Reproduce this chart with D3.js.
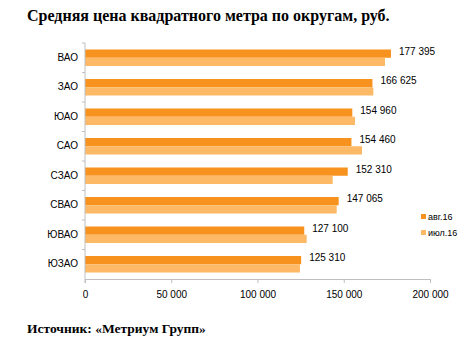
<!DOCTYPE html>
<html>
<head>
<meta charset="utf-8">
<script src="https://cdn.jsdelivr.net/npm/d3@7"></script>
<style>
  html, body { margin: 0; padding: 0; background: #fff; }
  svg { display: block; }
</style>
</head>
<body>
<svg id="chart" width="469" height="346"></svg>
<script>
// Average price per square metre by district, roubles
const districts = ["ВАО", "ЗАО", "ЮАО", "САО", "СЗАО", "СВАО", "ЮВАО", "ЮЗАО"];
const aug16 = [177395, 166625, 154960, 154460, 152310, 147065, 127100, 125310];
const jul16 = [173900, 167150, 156500, 160600, 143600, 145900, 128500, 124600];
const seriesNames = ["авг.16", "июл.16"];
const xTicks = [0, 50000, 100000, 150000, 200000];

const colors = { "авг.16": "#F7921E", "июл.16": "#FDB965" };
const fmt = v => d3.format(",")(v).replace(/,/g, " ");

const svg = d3.select("#chart");
const margin = { left: 85, right: 39, top: 43, bottom: 67 };
const W = 469, H = 346;

const x = d3.scaleLinear().domain([0, 200000]).range([margin.left, W - margin.right]);
const y = d3.scaleBand().domain(districts).range([margin.top, H - margin.bottom]).paddingInner(0.44).paddingOuter(0.22);
const sub = d3.scaleBand().domain(seriesNames).range([0, y.bandwidth()]);

const rows = districts.map((d, i) => ({ name: d, values: [
  { key: "авг.16", value: aug16[i] },
  { key: "июл.16", value: jul16[i] }
]}));

// title
svg.append("text")
  .attr("x", 27).attr("y", 21)
  .attr("font-family", "'Liberation Serif', 'Times New Roman', serif")
  .attr("font-weight", "bold").attr("font-size", 16)
  .attr("fill", "#000")
  .text("Средняя цена квадратного метра по округам, руб.");

// bars
const g = svg.append("g");
const groups = g.selectAll("g.row").data(rows).join("g")
  .attr("class", "row")
  .attr("transform", d => `translate(0,${y(d.name)})`);

groups.selectAll("rect").data(d => d.values).join("rect")
  .attr("x", x(0))
  .attr("y", d => sub(d.key))
  .attr("width", d => x(d.value) - x(0))
  .attr("height", sub.bandwidth())
  .attr("fill", d => colors[d.key]);

// value labels for авг.16
groups.append("text")
  .attr("x", d => x(d.values[0].value) + 8)
  .attr("y", d => sub("авг.16") + sub.bandwidth() / 2)
  .attr("dy", "0.1em")
  .attr("font-family", "'Liberation Sans', Arial, sans-serif")
  .attr("font-size", 10)
  .attr("fill", "#000")
  .text(d => fmt(d.values[0].value));

// x axis
const xAxis = svg.append("g")
  .attr("transform", `translate(0,${H - margin.bottom})`)
  .call(d3.axisBottom(x).tickValues(xTicks).tickFormat(fmt).tickSize(4).tickPadding(8));
xAxis.select(".domain").attr("stroke", "#BFBFBF");
xAxis.selectAll(".tick line").attr("stroke", "#BFBFBF");
xAxis.selectAll("text")
  .attr("font-family", "'Liberation Sans', Arial, sans-serif")
  .attr("font-size", 10).attr("fill", "#000");

// y axis with ticks at band boundaries
const yAxis = svg.append("g")
  .attr("transform", `translate(${margin.left},0)`)
  .call(d3.axisLeft(y).tickSize(0).tickPadding(7));
yAxis.select(".domain").attr("stroke", "#BFBFBF")
  .attr("d", `M0,${margin.top}V${H - margin.bottom + 4}`);
yAxis.selectAll("text")
  .attr("font-family", "'Liberation Sans', Arial, sans-serif")
  .attr("font-size", 10).attr("fill", "#000");
const step = y.step();
const bounds = d3.range(districts.length).map(i => margin.top + i * step);
yAxis.selectAll("line.sep").data(bounds).join("line")
  .attr("class", "sep")
  .attr("x1", -3).attr("x2", 0)
  .attr("y1", d => d).attr("y2", d => d)
  .attr("stroke", "#BFBFBF");

// legend
const legend = svg.append("g").attr("transform", "translate(421,214)");
seriesNames.forEach((s, i) => {
  const row = legend.append("g").attr("transform", `translate(0,${i * 16})`);
  row.append("rect").attr("x", 0).attr("y", 0).attr("width", 5).attr("height", 5).attr("fill", colors[s]);
  row.append("text").attr("x", 7).attr("y", 5.5)
    .attr("font-family", "'Liberation Sans', Arial, sans-serif")
    .attr("font-size", 9).attr("fill", "#000")
    .text(s);
});

// source note
svg.append("text")
  .attr("x", 27).attr("y", 333)
  .attr("font-family", "'Liberation Serif', 'Times New Roman', serif")
  .attr("font-weight", "bold").attr("font-size", 13.5)
  .attr("fill", "#000")
  .text("Источник: «Метриум Групп»");
</script>
</body>
</html>
